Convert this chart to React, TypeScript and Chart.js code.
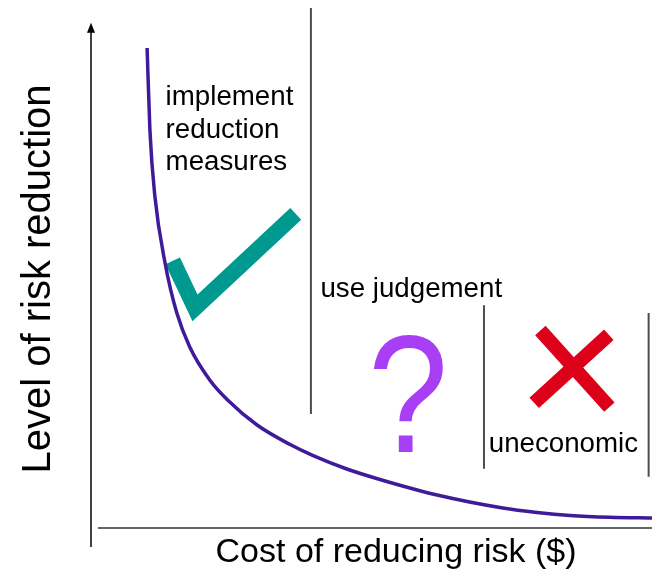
import React, { useEffect, useRef } from 'react';
import { Chart, registerables } from 'chart.js';

Chart.register(...registerables);

// Cost-benefit curve (x: cost of reducing risk, y: level of risk reduction), 0..100 units
const curveX = [10.0, 10.5, 11.4, 13.2, 15.3, 17.6, 21.2, 24.4, 29.6, 35.5, 39.6, 45.6, 51.5, 61.7, 73.4, 79.5, 85.4, 92.5, 100];
const curveY = [90.9, 75.4, 62.7, 50.2, 40.7, 34.3, 28.0, 24.2, 19.5, 15.8, 13.7, 11.17, 9.19, 6.25, 3.79, 2.94, 2.37, 2.03, 1.89];

// Region dividers
const dividerX = [39.2, 70.05, 99.4];
const dividerTop = [98.5, 42.2, 40.7];
const dividerBottom = [21.6, 11.2, 9.7];

// Check mark (implement), cross (uneconomic)
const checkX = [14.56, 18.54, 36.5];
const checkY = [50.6, 41.7, 59.5];
const crossAX = [80.1, 92.4];
const crossAY = [37.4, 22.9];
const crossBX = [92.3, 79.0];
const crossBY = [36.6, 23.7];

// Texts
const implementLines = ['implement', 'reduction', 'measures'];
const judgementLabel = 'use judgement';
const uneconomicLabel = 'uneconomic';
const questionLabel = '?';
const xTitle = 'Cost of reducing risk ($)';
const yTitle = 'Level of risk reduction';

const FONT = '"Liberation Sans", Arial, Helvetica, sans-serif';

const pts = (xs: number[], ys: number[]) => xs.map((x, i) => ({ x, y: ys[i] }));

const overlayPlugin = {
  id: 'overlay',
  beforeDatasetsDraw(chart: any) {
    const { ctx, scales } = chart;
    const xs = scales.x;
    const ys = scales.y;
    const x0 = xs.getPixelForValue(0);
    const y0 = ys.getPixelForValue(0);
    ctx.save();
    // y axis with arrow
    ctx.strokeStyle = '#000';
    ctx.lineWidth = 1.5;
    const yTop = ys.getPixelForValue(95.5);
    ctx.beginPath();
    ctx.moveTo(x0, yTop + 6);
    ctx.lineTo(x0, y0 + 19);
    ctx.stroke();
    ctx.fillStyle = '#000';
    ctx.beginPath();
    ctx.moveTo(x0, yTop - 1);
    ctx.lineTo(x0 - 4, yTop + 9);
    ctx.lineTo(x0 + 4, yTop + 9);
    ctx.closePath();
    ctx.fill();
    // x axis
    ctx.strokeStyle = '#333';
    ctx.lineWidth = 1.5;
    ctx.beginPath();
    ctx.moveTo(x0 + 7, y0);
    ctx.lineTo(xs.getPixelForValue(100), y0);
    ctx.stroke();
    ctx.restore();
  },
  afterDraw(chart: any) {
    const { ctx, scales } = chart;
    const xs = scales.x;
    const ys = scales.y;
    const px = (v: number) => xs.getPixelForValue(v);
    const py = (v: number) => ys.getPixelForValue(v);
    ctx.save();
    ctx.fillStyle = '#000';
    ctx.textBaseline = 'alphabetic';
    ctx.textAlign = 'left';
    ctx.font = `27.7px ${FONT}`;
    const implY = [80.1, 73.9, 67.8];
    implementLines.forEach((t, i) => ctx.fillText(t, px(13.3), py(implY[i])));
    ctx.fillText(judgementLabel, px(40.9), py(43.75));
    ctx.fillText(uneconomicLabel, px(70.9), py(14.4));

    // question mark
    ctx.save();
    ctx.fillStyle = '#a83ff5';
    ctx.textAlign = 'center';
    ctx.font = `160px ${FONT}`;
    ctx.translate(px(56.5), py(14.4));
    ctx.scale(0.9, 1.04);
    ctx.fillText(questionLabel, 0, 0);
    ctx.restore();

    // axis titles
    ctx.fillStyle = '#000';
    ctx.font = `34px ${FONT}`;
    ctx.textAlign = 'center';
    ctx.fillText(xTitle, 396, 562);

    ctx.save();
    ctx.translate(50, 279);
    ctx.rotate(-Math.PI / 2);
    ctx.font = `40px ${FONT}`;
    ctx.textAlign = 'center';
    ctx.fillText(yTitle, 0, 0);
    ctx.restore();
    ctx.restore();
  },
};

export default function App() {
  const canvasRef = useRef<HTMLCanvasElement | null>(null);

  useEffect(() => {
    if (!canvasRef.current) return;
    const dividerSets = dividerX.map((x, i) => ({
      data: [
        { x, y: dividerTop[i] },
        { x, y: dividerBottom[i] },
      ],
      borderColor: '#4d4d4d',
      borderWidth: 2,
      pointRadius: 0,
      borderCapStyle: 'butt',
      order: 2,
    }));
    const chart = new Chart(canvasRef.current, {
      type: 'line',
      data: {
        datasets: [
          {
            data: pts(curveX, curveY),
            borderColor: '#3f1a99',
            borderWidth: 3.5,
            pointRadius: 0,
            cubicInterpolationMode: 'monotone',
            borderCapStyle: 'butt',
            order: 0,
          },
          {
            data: pts(checkX, checkY),
            borderColor: '#00998f',
            borderWidth: 16,
            pointRadius: 0,
            borderJoinStyle: 'miter',
            borderCapStyle: 'butt',
            tension: 0,
            order: 1,
          },
          {
            data: pts(crossAX, crossAY),
            borderColor: '#dc0018',
            borderWidth: 14,
            pointRadius: 0,
            borderCapStyle: 'butt',
            order: 1,
          },
          {
            data: pts(crossBX, crossBY),
            borderColor: '#dc0018',
            borderWidth: 14,
            pointRadius: 0,
            borderCapStyle: 'butt',
            order: 1,
          },
          ...dividerSets,
        ] as any,
      },
      options: {
        animation: false,
        responsive: false,
        maintainAspectRatio: false,
        devicePixelRatio: 1,
        layout: { padding: { left: 91, right: 0, top: 0, bottom: 44 } },
        datasets: { line: { clip: false as any } },
        scales: {
          x: { type: 'linear', min: 0, max: 100, display: false },
          y: { type: 'linear', min: 0, max: 100, display: false },
        },
        plugins: {
          legend: { display: false },
          tooltip: { enabled: false },
        },
      } as any,
      plugins: [overlayPlugin],
    });
    return () => chart.destroy();
  }, []);

  return (
    <div style={{ position: 'absolute', left: 0, top: 0, width: 652, height: 572, background: '#fff' }}>
      <canvas ref={canvasRef} width={652} height={572} style={{ display: 'block' }} />
    </div>
  );
}
